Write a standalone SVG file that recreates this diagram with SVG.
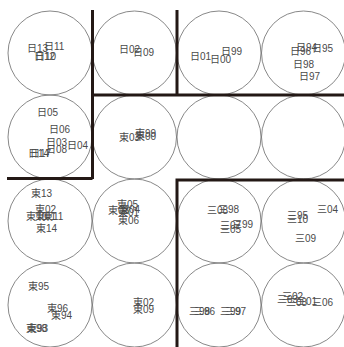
<svg xmlns="http://www.w3.org/2000/svg" width="344" height="347" viewBox="0 0 344 347">
<style>
.c{fill:none;stroke:#6a6a6a;stroke-width:0.8}
.w{fill:none;stroke:#231815;stroke-width:3}
text{font-family:"Liberation Sans","Noto Sans CJK SC",sans-serif;font-size:10px;fill:#4a4a4a}
</style>
<rect width="344" height="347" fill="#fff"/>
<g id="cell-0-0"><circle class="c" cx="50" cy="53" r="42"/>
<text x="27" y="52">日13</text><text x="44" y="50">日11</text><text x="34" y="60">日12</text><text x="35" y="60">日10</text></g>
<g id="cell-0-1"><circle class="c" cx="134.5" cy="53" r="42"/>
<text x="119" y="53">日02</text><text x="133" y="56">日09</text></g>
<g id="cell-0-2"><circle class="c" cx="219" cy="53" r="42"/>
<text x="190" y="60">日01</text><text x="210" y="63">日00</text><text x="221" y="55">日99</text></g>
<g id="cell-0-3"><circle class="c" cx="303.5" cy="53" r="42"/>
<text x="296" y="51">日94</text><text x="312" y="52">日95</text><text x="290" y="55">日96</text><text x="293" y="68">日98</text><text x="299" y="80">日97</text></g>
<g id="cell-1-0"><circle class="c" cx="50" cy="137" r="42"/>
<text x="37" y="116">日05</text><text x="49" y="133">日06</text><text x="46" y="146">日03</text><text x="67" y="149">日04</text><text x="46" y="153">日08</text><text x="28" y="157">日14</text><text x="30" y="157">日17</text></g>
<g id="cell-1-1"><circle class="c" cx="134.5" cy="137" r="42"/>
<text x="119" y="141">東03</text><text x="135" y="137">東99</text><text x="135" y="140">東00</text></g>
<g id="cell-1-2"><circle class="c" cx="219" cy="137" r="42"/></g>
<g id="cell-1-3"><circle class="c" cx="303.5" cy="137" r="42"/></g>
<g id="cell-2-0"><circle class="c" cx="50" cy="221" r="42"/>
<text x="31" y="197">東13</text><text x="35" y="213">東02</text><text x="26" y="220">東10</text><text x="35" y="220">東01</text><text x="43" y="220">東11</text><text x="36" y="232">東14</text></g>
<g id="cell-2-1"><circle class="c" cx="134.5" cy="221" r="42"/>
<text x="117" y="208">東05</text><text x="108" y="214">東03</text><text x="119" y="213">東04</text><text x="118" y="216">東01</text><text x="118" y="224">東06</text></g>
<g id="cell-2-2"><circle class="c" cx="219" cy="221" r="42"/>
<text x="207" y="214">三08</text><text x="218" y="213">三98</text><text x="220" y="229">三07</text><text x="232" y="228">三99</text><text x="220" y="233">三05</text></g>
<g id="cell-2-3"><circle class="c" cx="303.5" cy="221" r="42"/>
<text x="317" y="213">三04</text><text x="287" y="219">三95</text><text x="287" y="223">三10</text><text x="295" y="242">三09</text></g>
<g id="cell-3-0"><circle class="c" cx="50" cy="305" r="42"/>
<text x="28" y="290">東95</text><text x="47" y="312">東96</text><text x="51" y="319">東94</text><text x="26" y="332">東98</text><text x="27" y="332">東93</text></g>
<g id="cell-3-1"><circle class="c" cx="134.5" cy="305" r="42"/>
<text x="133" y="306">東02</text><text x="133" y="313">東09</text></g>
<g id="cell-3-2"><circle class="c" cx="219" cy="305" r="42"/>
<text x="189" y="315">三98</text><text x="194" y="315">三96</text><text x="220" y="315">三99</text><text x="225" y="315">三97</text></g>
<g id="cell-3-3"><circle class="c" cx="303.5" cy="305" r="42"/>
<text x="282" y="300">三02</text><text x="277" y="303">三03</text><text x="286" y="306">三08</text><text x="296" y="305">三01</text><text x="312" y="306">三06</text></g>
<g id="walls">
<path class="w" d="M92.5,10 V179 M7,178.5 H92.5 M92.5,95 H344 M177,10 V95 M177,347 V180 H344"/>
</g>
</svg>
